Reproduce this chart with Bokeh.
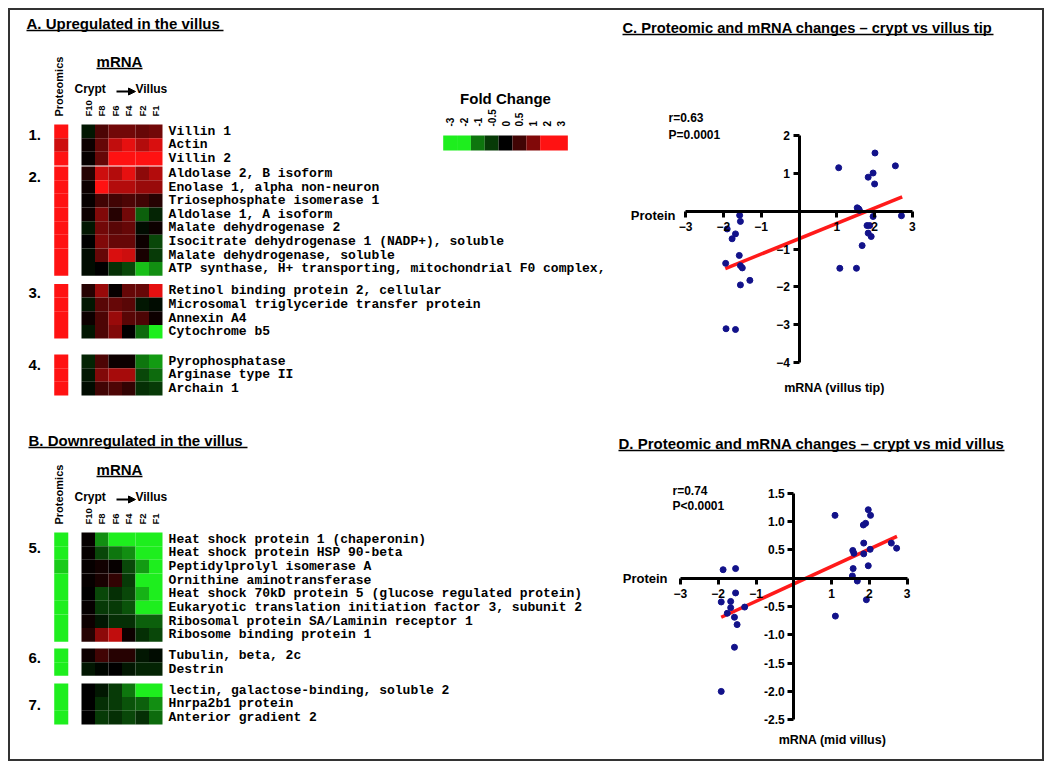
import math
from bokeh.plotting import figure
from bokeh.models import (Range1d, Label, Arrow, NormalHead, FixedTicker,
                          PrintfTickFormatter, ColumnDataSource, LinearColorMapper)
from bokeh.layouts import row, column
from bokeh.transform import transform
from bokeh.core.properties import value
from bokeh.embed import file_html
from bokeh.resources import INLINE

# ------------------------------------------------------------------ data
conditions = ["F10", "F8", "F6", "F4", "F2", "F1"]
fold_ticks = [-3, -2, -1, -0.5, 0, 0.5, 1, 2, 3]
fold_labels = ["-3", "-2", "-1", "-0.5", "0", "0.5", "1", "2", "3"]

up_numbers = ["1.", "2.", "3.", "4."]
up_genes = [
    ["Villin 1", "Actin", "Villin 2"],
    ["Aldolase 2, B isoform", "Enolase 1, alpha non-neuron", "Triosephosphate isomerase 1",
     "Aldolase 1, A isoform", "Malate dehydrogenase 2",
     "Isocitrate dehydrogenase 1 (NADP+), soluble", "Malate dehydrogenase, soluble",
     "ATP synthase, H+ transporting, mitochondrial F0 complex,"],
    ["Retinol binding protein 2, cellular", "Microsomal triglyceride transfer protein",
     "Annexin A4", "Cytochrome b5"],
    ["Pyrophosphatase", "Arginase type II", "Archain 1"],
]
up_proteomics = [
    [2.5, 1.6, 2.5],
    [2.5, 2.5, 2.5, 2.5, 2.5, 2.5, 2.5, 2.5],
    [2.5, 2.5, 2.5, 2.5],
    [2.5, 2.5, 2.5],
]
up_mrna = [
    [[-0.2, 0.6, 0.9, 0.9, 0.8, 0.9],
     [0.1, 0.8, 1.5, 1.8, 1.4, 1.7],
     [0.05, 0.8, 2.0, 2.0, 2.5, 2.5]],
    [[0.3, 1.6, 1.4, 1.8, 1.1, 1.4],
     [0.1, 2.0, 1.4, 1.4, 1.2, 1.2],
     [0.05, 0.5, 0.5, 0.6, 0.5, 0.3],
     [0.1, 1.0, 0.3, 0.9, -0.8, -0.3],
     [-0.2, 0.9, 0.7, 0.8, -0.1, 0.1],
     [0.0, 1.0, 0.8, 0.8, 0.1, -0.6],
     [-0.1, 0.8, 1.7, 1.6, 0.2, -0.5],
     [-0.1, 0.0, -0.4, -0.6, -1.6, -1.2]],
    [[0.3, 1.2, 0.05, 0.8, 0.8, 1.8],
     [-0.2, 0.7, 0.8, 0.7, -0.2, -0.1],
     [0.1, 0.6, 1.2, 0.7, 0.6, 0.1],
     [-0.2, 0.6, 1.0, 0.0, -0.9, -2.5]],
    [[-0.3, 0.6, 0.1, 0.1, -1.0, -1.3],
     [-0.2, 1.0, 1.3, 1.3, -0.6, -0.9],
     [-0.1, 0.5, 0.6, 0.4, -0.4, -0.5]],
]

down_numbers = ["5.", "6.", "7."]
down_genes = [
    ["Heat shock protein 1 (chaperonin)", "Heat shock protein HSP 90-beta",
     "Peptidylprolyl isomerase A", "Ornithine aminotransferase",
     "Heat shock 70kD protein 5 (glucose regulated protein)",
     "Eukaryotic translation initiation factor 3, subunit 2",
     "Ribosomal protein SA/Laminin receptor 1", "Ribosome binding protein 1"],
    ["Tubulin, beta, 2c", "Destrin"],
    ["lectin, galactose-binding, soluble 2", "Hnrpa2b1 protein", "Anterior gradient 2"],
]
down_proteomics = [
    [-2.5, -2.5, -1.7, -2.5, -2.5, -2.5, -2.5, -2.5],
    [-2.5, -2.5],
    [-2.5, -2.5, -2.5],
]
down_mrna = [
    [[0.05, -1.2, -2.5, -2.5, -2.5, -2.5],
     [0.05, -0.6, -1.0, -1.2, -2.5, -2.5],
     [0.05, 0.15, 0.05, -0.6, -1.3, -2.5],
     [0.05, 0.2, 0.4, -0.5, -2.5, -2.5],
     [0.0, -0.6, -0.4, -0.6, -1.5, -2.5],
     [0.05, -0.5, -0.5, -0.7, -2.5, -2.5],
     [0.1, -0.2, -0.4, -0.4, -0.8, -0.8],
     [0.3, 1.1, 1.5, 0.1, -0.4, -0.6]],
    [[0.1, 0.5, 0.3, 0.3, -0.2, -0.1],
     [-0.2, -0.05, 0.0, -0.2, -0.3, -0.3]],
    [[0.0, -0.2, -0.5, -1.0, -2.5, -2.5],
     [0.0, -0.4, -0.5, -0.7, -0.8, -1.2],
     [0.0, -0.5, -0.4, -0.6, -0.4, -0.9]],
]

# scatter C: crypt vs villus tip
tip_mrna = [-1.57, -1.55, -1.90, -1.68, -1.77, -1.94, -1.58, -1.55, -1.50, -1.30, -1.55, -1.93, -1.68,
            1.05, 2.01, 2.55, 1.96, 1.83, 2.00, 1.54, 1.58, 1.60, 1.96, 2.71, 1.80, 1.87, 1.83, 1.91,
            1.67, 1.08, 1.52]
tip_protein = [-0.11, -0.27, -0.47, -0.60, -0.73, -1.38, -1.17, -1.44, -1.50, -1.83, -1.95, -3.11, -3.13,
               1.15, 1.54, 1.20, 1.01, 0.90, 0.72, 0.09, 0.06, 0.02, -0.14, -0.12, -0.38, -0.38, -0.58,
               -0.67, -0.91, -1.51, -1.51]
tip_fit_x = [-1.95, 2.73]
tip_fit_y = [-1.52, 0.38]
tip_stats = ["r=0.63", "P=0.0001"]

# scatter D: crypt vs mid villus
mid_mrna = [-1.87, -1.54, -1.54, -1.67, -1.92, -1.67, -1.30, -1.76, -1.57, -1.50, -1.57, -1.92,
            1.09, 1.97, 2.03, 1.90, 1.84, 1.85, 2.58, 2.72, 2.02, 1.56, 1.59, 1.85, 1.57, 1.97,
            1.55, 1.68, 1.92, 1.10]
mid_protein = [0.15, 0.17, -0.26, -0.41, -0.42, -0.52, -0.51, -0.62, -0.69, -0.82, -1.22, -2.00,
               1.11, 1.21, 1.11, 0.97, 0.94, 0.62, 0.62, 0.53, 0.51, 0.49, 0.44, 0.43, 0.17, 0.22,
               0.04, -0.05, -0.38, -0.67]
mid_fit_x = [-1.92, 2.73]
mid_fit_y = [-0.69, 0.74]
mid_stats = ["r=0.74", "P<0.0001"]

# ------------------------------------------------------------------ style
SANS = "Liberation Sans"
MONO = "Liberation Mono"
DOT = "#12128a"
FIT = "#ff1a1a"

# green - black - red palette (fold change)
palette = []
for i in range(256):
    s = -1 + 2 * i / 255
    t = abs(s)
    if s < 0:
        palette.append("#%02x%02x%02x" % (int(30 * t), int(238 * t), int(30 * t)))
    else:
        palette.append("#%02x%02x%02x" % (int(255 * t), int(18 * t), int(18 * t)))
mapper = LinearColorMapper(palette=palette, low=-2, high=2)

# ------------------------------------------------------------------ left figure (heat maps)
COL_PX, ROW_PX = 13.5, 13.65
X0_PX, Y0_PX = 87.75, 124.0      # page position of first mRNA column centre / panel A top


def ux(px):
    return (px - X0_PX) / COL_PX


def uy(py):
    return (py - Y0_PX) / ROW_PX


left = figure(width=602, height=749, x_range=Range1d(ux(10), ux(612)),
              y_range=Range1d(uy(759), uy(10)), x_axis_location=None, y_axis_location=None,
              output_backend="svg", toolbar_location=None, min_border=0)
left.grid.visible = False
left.outline_line_color = None


def add_label(fig, x, y, text, size, align="left", bold=True, angle=0, font=SANS, baseline="middle"):
    fig.add_layout(Label(x=x, y=y, text=text, text_font=font, text_font_size=size,
                         text_font_style="bold" if bold else "normal", text_align=align,
                         text_baseline=baseline, angle=angle, text_color="black"))


def heat_panel(fig, top_px, group_offsets, number_offsets, numbers, genes, prot, mrna):
    top = uy(top_px)
    cx, cy, cv, px_, py_, pv = [], [], [], [], [], []
    lx, ly, lt = [], [], []
    for g, off in enumerate(group_offsets):
        for r, gene in enumerate(genes[g]):
            yy = top + off + r + 0.5
            for c in range(len(conditions)):
                cx.append(c)
                cy.append(yy)
                cv.append(mrna[g][r][c])
            px_.append(-2)
            py_.append(yy)
            pv.append(prot[g][r])
            lx.append(5.5 + 0.45)
            ly.append(yy)
            lt.append(gene)
        add_label(fig, ux(28), top + off + number_offsets[g], numbers[g], "15px")
    fig.rect(x="x", y="y", width=1, height=1,
             source=ColumnDataSource(dict(x=cx, y=cy, v=cv)),
             fill_color=transform("v", mapper), line_color=None)
    fig.rect(x="x", y="y", width=1.04, height=1,
             source=ColumnDataSource(dict(x=px_, y=py_, v=pv)),
             fill_color=transform("v", mapper), line_color=None)
    fig.text(x="x", y="y", text="t", source=ColumnDataSource(dict(x=lx, y=ly, t=lt)),
             text_font=value(MONO), text_font_size="13px", text_font_style="bold",
             text_baseline="middle", text_align="left", text_color="black")

    # column headers
    add_label(fig, ux(119), uy(top_px - 63), "mRNA", "15px", align="center")
    fig.segment(x0=[ux(96)], y0=[uy(top_px - 56)], x1=[ux(142)], y1=[uy(top_px - 56)],
                line_color="black", line_width=1.5)
    add_label(fig, ux(74), uy(top_px - 36), "Crypt", "12px")
    add_label(fig, ux(135), uy(top_px - 36), "Villus", "12px")
    fig.add_layout(Arrow(x_start=ux(116), y_start=uy(top_px - 33), x_end=ux(135), y_end=uy(top_px - 33),
                         line_width=2, line_color="black",
                         end=NormalHead(size=7, fill_color="black", line_color="black")))
    add_label(fig, ux(58), uy(top_px - 8), "Proteomics", "11px", angle=math.pi / 2)
    fig.text(x=list(range(len(conditions))), y=[uy(top_px - 8)] * len(conditions), text=conditions,
             angle=math.pi / 2, text_font=value(SANS), text_font_size="9.5px", text_font_style="bold",
             text_align="left", text_baseline="middle", text_color="black")


# panel titles
add_label(left, ux(26), uy(22.5), "A.  Upregulated in the villus", "15px")
left.segment(x0=[ux(26)], y0=[uy(30)], x1=[ux(223)], y1=[uy(30)], line_color="black", line_width=1.5)
add_label(left, ux(28), uy(439.5), "B.  Downregulated in the villus", "15px")
left.segment(x0=[ux(28)], y0=[uy(447)], x1=[ux(247)], y1=[uy(447)], line_color="black", line_width=1.5)

heat_panel(left, 124, [0, 3.08, 11.68, 16.85], [0.8, 0.75, 0.7, 0.8],
           up_numbers, up_genes, up_proteomics, up_mrna)
heat_panel(left, 532, [0, 8.5, 11.06], [1.1, 0.7, 1.6],
           down_numbers, down_genes, down_proteomics, down_mrna)

# colour key
cb_w = 13.85
cb_x = [ux(442.7 + cb_w * (i + 0.5)) for i in range(len(fold_ticks))]
left.rect(x="x", y="y", width=cb_w / COL_PX, height=15 / ROW_PX,
          source=ColumnDataSource(dict(x=cb_x, y=[uy(142.5)] * len(fold_ticks), v=fold_ticks)),
          fill_color=transform("v", mapper), line_color=None)
left.text(x=cb_x, y=[uy(126)] * len(fold_ticks), text=fold_labels, angle=math.pi / 2,
          text_font=value(SANS), text_font_size="10px", text_font_style="bold",
          text_align="left", text_baseline="middle", text_color="black")
add_label(left, ux(505), uy(97.5), "Fold Change", "15px", align="center")


# ------------------------------------------------------------------ scatter panels
def scatter_panel(height, xr, yr, yticks, ybounds, fmt, xs, ys, fx, fy, stats, stat_pos,
                  title, title_size, title_pos, title_end, protein_pos, xlabel, xlabel_pos):
    p = figure(width=430, height=height, x_range=Range1d(*xr), y_range=Range1d(*yr),
               output_backend="svg", toolbar_location=None, min_border=0)
    p.grid.visible = False
    p.outline_line_color = None
    for ax in (p.xaxis[0], p.yaxis[0]):
        ax.fixed_location = 0
        ax.axis_line_width = 3
        ax.axis_line_color = "black"
        ax.major_tick_line_width = 3
        ax.major_tick_line_color = "black"
        ax.major_tick_out = 6
        ax.major_tick_in = 0
        ax.minor_tick_line_color = None
        ax.major_label_text_font = SANS
        ax.major_label_text_font_style = "bold"
        ax.major_label_text_font_size = "12px"
        ax.major_label_text_color = "black"
    p.xaxis.bounds = (-3, 3)
    p.xaxis.ticker = FixedTicker(ticks=[-3, -2, -1, 1, 2, 3])
    p.xaxis.major_label_standoff = 5
    p.yaxis.bounds = ybounds
    p.yaxis.ticker = FixedTicker(ticks=yticks)
    p.yaxis.major_label_standoff = 3
    if fmt:
        p.yaxis.formatter = PrintfTickFormatter(format=fmt)
    p.line(fx, fy, line_color=FIT, line_width=3.5)
    p.scatter(xs, ys, size=6, fill_color=DOT, line_color=DOT)
    add_label(p, stat_pos[0], stat_pos[1], stats[0], "12px")
    add_label(p, stat_pos[0], stat_pos[2], stats[1], "12px")
    add_label(p, title_pos[0], title_pos[1], title, title_size)
    p.segment(x0=[title_pos[0]], y0=[title_end[1]], x1=[title_end[0]], y1=[title_end[1]],
              line_color="black", line_width=1.5)
    add_label(p, protein_pos[0], protein_pos[1], "Protein", "13px", align="right")
    add_label(p, xlabel_pos[0], xlabel_pos[1], xlabel, "12.5px", align="center")
    return p


# C: page frame x 612..1042, y 10..415 ; 37.8 px per unit, origin at page (798.5, 210.7)
def cxu(px):
    return (px - 798.5) / 37.8


def cyu(py):
    return (210.7 - py) / 37.8


pc = scatter_panel(405, (cxu(612), cxu(1042)), (cyu(415), cyu(10)), [-4, -3, -2, -1, 1, 2], (-4, 2), None,
                   tip_mrna, tip_protein, tip_fit_x, tip_fit_y, tip_stats,
                   (cxu(668), cyu(117), cyu(134)),
                   "C. Proteomic and mRNA changes \u2013 crypt vs villus tip", "14.7px", (cxu(622), cyu(27)),
                   (cxu(993), cyu(34)), (cxu(675), cyu(215)), "mRNA (villus tip)", (cxu(834), cyu(387)))


# D: page frame x 612..1042, y 415..759 ; x 37.8 px/unit, y 56.6 px/unit, origin (793.3, 577.7)
def dxu(px):
    return (px - 793.3) / 37.8


def dyu(py):
    return (577.7 - py) / 56.6


pd_ = scatter_panel(344, (dxu(612), dxu(1042)), (dyu(759), dyu(415)),
                    [-2.5, -2.0, -1.5, -1.0, -0.5, 0.5, 1.0, 1.5], (-2.5, 1.5), "%.1f",
                    mid_mrna, mid_protein, mid_fit_x, mid_fit_y, mid_stats,
                    (dxu(672), dyu(490), dyu(505)),
                    "D. Proteomic and mRNA changes \u2013 crypt vs mid villus", "15px", (dxu(618), dyu(443)),
                    (dxu(1004), dyu(450)), (dxu(667), dyu(578)), "mRNA (mid villus)", (dxu(832), dyu(739)))

layout = row(left, column(pc, pd_),
             styles={"border": "2px solid #333333", "margin-left": "8px", "margin-top": "8px"})

open("out.html", "w").write(file_html(layout, INLINE))
